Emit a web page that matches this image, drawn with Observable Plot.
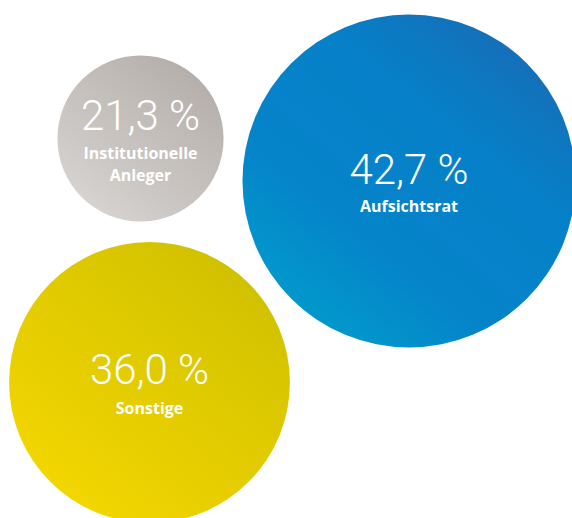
<!DOCTYPE html>
<html>
<head>
<meta charset="utf-8">
<script src="https://cdn.jsdelivr.net/npm/d3@7"></script>
<script src="https://cdn.jsdelivr.net/npm/@observablehq/plot@0.6"></script>
<style>
  html, body { margin: 0; padding: 0; background: #fff; }
  #chart svg { display: block; }
</style>
</head>
<body>
<div id="chart"></div>
<script>
// Data
const categories = ["Aufsichtsrat", "Institutionelle\nAnleger", "Sonstige"];
const shares = [42.7, 21.3, 36.0];

// Layout (pixel positions of circle centres and text baselines)
const centerX = [408.5, 140, 149];
const centerY = [180.5, 138, 382];
const valueBaseline = [183, 129, 383];
const labelBaseline = [211, 180.5, 413];

// Styles: gradient stops, bottom-left -> top-right
const gradients = [
  ["#00a2cc", "#0584ca", "#0680c8", "#1a68b2"],
  ["#dbd8d6", "#cbc7c4", "#bfbab6", "#b0aaa6"],
  ["#f8da00", "#e8cf00", "#dcc800", "#ccbd00"]
];

const data = categories.map((c, i) => ({
  label: c,
  value: shares[i],
  cx: centerX[i],
  cy: centerY[i],
  vy: valueBaseline[i],
  ly: labelBaseline[i],
  grad: `url(#bubble-grad-${i})`
}));

const fmt = v => v.toFixed(1).replace(".", ",") + " %";

function gradientDefs() {
  const defs = d3.create("svg:defs");
  gradients.forEach((stops, i) => {
    const g = defs.append("linearGradient")
      .attr("id", `bubble-grad-${i}`)
      .attr("x1", "0.1").attr("y1", "1")
      .attr("x2", "0.9").attr("y2", "0");
    stops.forEach((s, j) => {
      g.append("stop")
        .attr("offset", j / (stops.length - 1))
        .attr("stop-color", s);
    });
  });
  return defs.node();
}

const W = 572, H = 518;

const chart = Plot.plot({
  width: W,
  height: H,
  margin: 0,
  style: { background: "#fff", overflow: "hidden" },
  x: { domain: [0, W], range: [0, W], axis: null },
  y: { domain: [0, H], range: [0, H], axis: null },
  r: { type: "linear", domain: [0, 10], range: [0, 39] },
  color: { type: "identity" },
  marks: [
    gradientDefs,
    Plot.dot(data, { x: "cx", y: "cy", r: "value", fill: "grad", stroke: null }),
    Plot.text(data, {
      x: "cx", y: "vy", text: d => fmt(d.value),
      fill: "white", fontSize: 42, fontWeight: 300,
      fontFamily: "Roboto", lineAnchor: "bottom", textAnchor: "middle"
    }),
    Plot.text(data, {
      x: "cx", y: "ly", text: "label",
      fill: "white", fontSize: 16, fontWeight: 700, lineHeight: 1.375,
      fontFamily: "Open Sans", lineAnchor: "bottom", textAnchor: "middle"
    })
  ]
});

document.getElementById("chart").appendChild(chart);
</script>
</body>
</html>
